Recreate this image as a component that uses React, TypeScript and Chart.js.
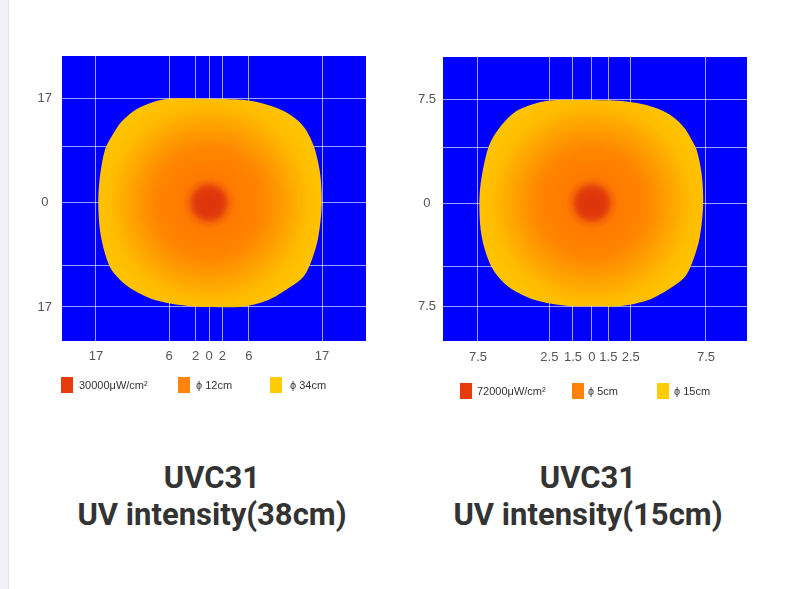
import React, { useEffect, useRef } from 'react';
import { Chart, registerables } from 'chart.js';

Chart.register(...registerables);

// ---------- Left panel (38cm) ----------
const LEFT_X_TICKS = [-17, -6, -2, 0, 2, 6, 17];
const LEFT_X_LABELS = ['17', '6', '2', '0', '2', '6', '17'];
const LEFT_Y_TICKS = [17, 9.2, 0, -10.3, -17];
const LEFT_Y_LABELS = ['17', '', '0', '', '17'];
const LEFT_OUTLINE_X = [0, 4.92, 7.93, 10.2, 11.9, 13.3, 14.4, 15.2, 15.95, 16.7, 16.95, 16.44, 15.45, 14.19, 11.93, 8.92, 4.92, 0, -3.11, -8.12, -12.14, -14.64, -15.65, -16.4, -16.65, -16.4, -15.65, -14.64, -13.13, -10.64, -6.62, 0];
const LEFT_OUTLINE_Y = [17, 16.84, 16.3, 15.5, 14.6, 13.5, 12.2, 10.7, 8.66, 4.85, -0.05, -5.51, -9.32, -12.05, -13.94, -15.85, -16.95, -17, -16.84, -15.85, -13.68, -10.95, -8.24, -4.41, 0.21, 4.3, 8.66, 10.84, 13.29, 15.48, 16.95, 17];
const LEFT_LEGEND = ['30000μW/cm²', 'ϕ 12cm', 'ϕ 34cm'];

// ---------- Right panel (15cm) ----------
// grid/tick positions as they sit in the picture (the labels are the nominal distances)
const RIGHT_X_TICKS = [-7.5, -2.8, -1.25, 0, 1.08, 2.55, 7.5];
const RIGHT_X_LABELS = ['7.5', '2.5', '1.5', '0', '1.5', '2.5', '7.5'];
const RIGHT_Y_TICKS = [7.5, 4, 0, -4.6, -7.5];
const RIGHT_Y_LABELS = ['7.5', '', '0', '', '7.5'];
const RIGHT_OUTLINE_X = [0, 1.95, 3.27, 4.3, 5.05, 5.65, 6.15, 6.55, 6.89, 7.21, 7.32, 7.1, 6.66, 6.12, 5.02, 3.7, 1.95, 0, -1.56, -3.75, -5.5, -6.49, -7.04, -7.32, -7.41, -7.32, -7.04, -6.71, -5.94, -4.85, -2.87, 0];
const RIGHT_OUTLINE_Y = [7.46, 7.39, 7.17, 6.85, 6.45, 5.95, 5.35, 4.6, 3.84, 2.15, -0.02, -2.44, -4.13, -5.34, -6.26, -7.03, -7.46, -7.48, -7.46, -7.03, -6.06, -4.86, -3.41, -1.96, -0.02, 1.43, 3.12, 4.32, 5.65, 6.74, 7.41, 7.46];
const RIGHT_LEGEND = ['72000μW/cm²', 'ϕ 5cm', 'ϕ 15cm'];

const LEGEND_COLORS = ['#E63C0B', '#FF820A', '#FFCC00'];

const GRADIENT_STOPS: [number, string][] = [
  [0, '#DC340C'],
  [0.1, '#E0390B'],
  [0.125, '#E7470A'],
  [0.155, '#F56505'],
  [0.2, '#FF7A00'],
  [0.42, '#FF8600'],
  [0.6, '#FFA200'],
  [0.76, '#FFBC00'],
  [1, '#FFCA00'],
];

const TICK_FONT = { family: '"Liberation Sans", Arial, sans-serif', size: 13 };

const plotBg = {
  id: 'plotBg',
  beforeDraw(chart: any) {
    const { ctx, chartArea: a } = chart;
    ctx.save();
    ctx.fillStyle = '#0000FF';
    ctx.fillRect(a.left, a.top, a.right - a.left, a.bottom - a.top);
    ctx.restore();
  },
};

interface PanelProps {
  xTicks: number[];
  xLabels: string[];
  yTicks: number[];
  yLabels: string[];
  outX: number[];
  outY: number[];
  xMin: number;
  xMax: number;
  yMin: number;
  yMax: number;
  padTop: number;
  padRight: number;
  yAxisWidth: number;
  yPad: number;
  xPad: number;
  left: number;
}

function Panel(p: PanelProps) {
  const ref = useRef<HTMLCanvasElement | null>(null);
  useEffect(() => {
    if (!ref.current) return;
    const points = p.outX.map((x, i) => ({ x, y: p.outY[i] }));
    const fill = (c: any) => {
      const chart = c.chart;
      const xs = chart.scales?.x;
      const ys = chart.scales?.y;
      if (!chart.chartArea || !xs || !ys) return '#FFC800';
      const cx = xs.getPixelForValue(0);
      const cy = ys.getPixelForValue(0);
      const g = chart.ctx.createRadialGradient(cx, cy, 0, cx, cy, 130);
      GRADIENT_STOPS.forEach(([o, col]) => g.addColorStop(o, col));
      return g;
    };
    const chart = new Chart(ref.current, {
      type: 'line',
      data: {
        datasets: [
          {
            data: points,
            fill: 'shape',
            backgroundColor: fill,
            borderColor: 'rgba(0,0,0,0)',
            borderWidth: 0,
            pointRadius: 0,
            tension: 0.3,
          } as any,
        ],
      },
      options: {
        animation: false,
        responsive: false,
        devicePixelRatio: 1,
        layout: { padding: { top: p.padTop, right: p.padRight, bottom: 0, left: 0 } },
        plugins: { legend: { display: false }, tooltip: { enabled: false } },
        scales: {
          x: {
            type: 'linear',
            min: p.xMin,
            max: p.xMax,
            afterBuildTicks: (s: any) => {
              s.ticks = p.xTicks.map((v) => ({ value: v }));
            },
            afterFit: (s: any) => {
              s.height = 39;
            },
            ticks: {
              autoSkip: false,
              maxRotation: 0,
              minRotation: 0,
              padding: p.xPad,
              color: '#555',
              font: TICK_FONT,
              callback: (_v: any, i: number) => p.xLabels[i],
            },
            grid: { color: 'rgba(255,255,255,0.62)', lineWidth: 1, drawTicks: false },
            border: { display: false },
          },
          y: {
            type: 'linear',
            min: p.yMin,
            max: p.yMax,
            afterBuildTicks: (s: any) => {
              s.ticks = p.yTicks.map((v) => ({ value: v }));
            },
            afterFit: (s: any) => {
              s.width = p.yAxisWidth;
            },
            ticks: {
              autoSkip: false,
              crossAlign: 'center',
              padding: p.yPad,
              color: '#555',
              font: TICK_FONT,
              callback: (_v: any, i: number) => p.yLabels[i],
            },
            grid: { color: 'rgba(255,255,255,0.62)', lineWidth: 1, drawTicks: false },
            border: { display: false },
          },
        },
      } as any,
      plugins: [plotBg],
    });
    return () => chart.destroy();
  }, []);
  return (
    <canvas
      ref={ref}
      width={393}
      height={380}
      style={{ position: 'absolute', left: p.left, top: 0, width: 393, height: 380 }}
    />
  );
}

function Legend({ items, left, top, offsets, textGap }: { items: string[]; left: number; top: number; offsets: number[]; textGap: number[] }) {
  return (
    <>
      {items.map((t, i) => (
        <div
          key={i}
          style={{
            position: 'absolute',
            left: left + offsets[i],
            top,
            height: 16,
            display: 'flex',
            alignItems: 'center',
            fontFamily: '"Liberation Sans", Arial, sans-serif',
            fontSize: 11,
            color: '#333',
            whiteSpace: 'nowrap',
          }}
        >
          <span style={{ display: 'inline-block', width: 12, height: 16, background: LEGEND_COLORS[i], marginRight: textGap[i] }} />
          <span>{t}</span>
        </div>
      ))}
    </>
  );
}

function Title({ center, lines }: { center: number; lines: string[] }) {
  return (
    <div
      style={{
        position: 'absolute',
        left: center - 200,
        width: 400,
        top: 459,
        textAlign: 'center',
        fontFamily: 'Roboto, "Noto Sans", sans-serif',
        fontWeight: 700,
        fontSize: 31,
        lineHeight: '37px',
        color: '#333',
      }}
    >
      {lines.map((l, i) => (
        <div key={i}>{l}</div>
      ))}
    </div>
  );
}

export default function App() {
  return (
    <div style={{ position: 'fixed', left: 0, top: 0, width: 786, height: 589, background: '#fff', overflow: 'hidden' }}>
      <div style={{ position: 'absolute', left: 0, top: 0, width: 8, height: 589, background: '#F1F2F6', borderRight: '1px solid #E2E3E8' }} />
      <Panel
        xTicks={LEFT_X_TICKS}
        xLabels={LEFT_X_LABELS}
        yTicks={LEFT_Y_TICKS}
        yLabels={LEFT_Y_LABELS}
        outX={LEFT_OUTLINE_X}
        outY={LEFT_OUTLINE_Y}
        xMin={-22.1}
        xMax={23.6}
        yMin={-22.56}
        yMax={24.0}
        padTop={56}
        padRight={27}
        yAxisWidth={62}
        yPad={10}
        xPad={8}
        left={0}
      />
      <Panel
        xTicks={RIGHT_X_TICKS}
        xLabels={RIGHT_X_LABELS}
        yTicks={RIGHT_Y_TICKS}
        yLabels={RIGHT_Y_LABELS}
        outX={RIGHT_OUTLINE_X}
        outY={RIGHT_OUTLINE_Y}
        xMin={-9.8}
        xMax={10.2}
        yMin={-10.0}
        yMax={10.58}
        padTop={57}
        padRight={39}
        yAxisWidth={50}
        yPad={7}
        xPad={9}
        left={393}
      />
      <Legend items={LEFT_LEGEND} left={61} top={377} offsets={[0, 117, 209]} textGap={[6, 6, 8]} />
      <Legend items={RIGHT_LEGEND} left={460} top={383} offsets={[0, 112, 197]} textGap={[5, 4, 5]} />
      <Title center={212} lines={['UVC31', 'UV intensity(38cm)']} />
      <Title center={588} lines={['UVC31', 'UV intensity(15cm)']} />
    </div>
  );
}
